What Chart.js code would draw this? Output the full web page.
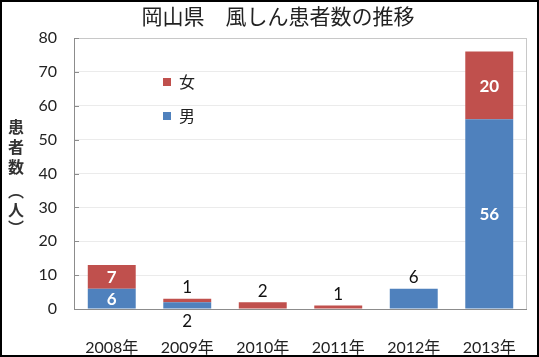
<!DOCTYPE html>
<html>
<head>
<meta charset="utf-8">
<script src="https://cdn.jsdelivr.net/npm/chart.js@4.4.1/dist/chart.umd.min.js"></script>
<style>
html,body{margin:0;padding:0;background:#fff;}
#wrap{width:539px;height:357px;position:relative;}
</style>
</head>
<body>
<div id="wrap"><canvas id="c" width="539" height="357"></canvas></div>
<script>
const categories = ['2008年','2009年','2010年','2011年','2012年','2013年'];
const male = [6, 2, 0, 0, 6, 56];
const female = [7, 1, 2, 1, 0, 20];
const seriesNames = ['男','女'];
const yTicks = [0,10,20,30,40,50,60,70,80];
const chartTitle = '岡山県　風しん患者数の推移';
const yTitleChars = ['患','者','数','︵','人','︶'];

const BLUE = '#4F81BD', RED = '#C0504D';
const FONT = "Lato, 'Noto Sans CJK JP', sans-serif";
const JFONT = "'Noto Sans CJK JP', sans-serif";

const deco = {
  id: 'deco',
  beforeDatasetsDraw(chart) {
    const {ctx, chartArea: a, scales: {y}} = chart;
    ctx.save();
    ctx.strokeStyle = '#c8c8c8';
    ctx.lineWidth = 1;
    ctx.strokeRect(a.left + 0.5, a.top + 0.5, a.right - a.left - 1, a.bottom - a.top);
    ctx.strokeStyle = '#8c8c8c';
    ctx.beginPath();
    ctx.moveTo(a.left + 0.5, a.top); ctx.lineTo(a.left + 0.5, a.bottom + 0.5);
    ctx.lineTo(a.right, a.bottom + 0.5);
    ctx.stroke();
    yTicks.forEach(v => {
      const py = Math.round(y.getPixelForValue(v)) + 0.5;
      ctx.beginPath(); ctx.moveTo(a.left, py); ctx.lineTo(a.left + 5, py); ctx.stroke();
    });
    ctx.restore();
  },
  afterDraw(chart) {
    const {ctx} = chart;
    ctx.save();
    ctx.fillStyle = '#222';
    ctx.font = "21px " + JFONT;
    ctx.textAlign = 'center';
    ctx.textBaseline = 'middle';
    ctx.fillText(chartTitle, 278, 16);
    ctx.font = "bold 16px " + JFONT;
    ctx.fillStyle = '#333';
    const yPos = [127, 147, 167, 191, 210, 228];
    yTitleChars.forEach((ch, i) => {
      ctx.fillText(ch, 16, yPos[i]);
    });
    const leg = [{name: seriesNames[1], color: RED, y: 82}, {name: seriesNames[0], color: BLUE, y: 116}];
    ctx.font = "16px " + JFONT;
    ctx.textAlign = 'left';
    leg.forEach(l => {
      ctx.fillStyle = l.color;
      ctx.fillRect(163, l.y - 4, 8, 8);
      ctx.fillStyle = '#222';
      ctx.fillText(l.name, 179, l.y);
    });
    const mMeta = chart.getDatasetMeta(0), fMeta = chart.getDatasetMeta(1);
    ctx.textAlign = 'center';
    categories.forEach((c, i) => {
      const mb = mMeta.data[i], fb = fMeta.data[i];
      const m = male[i], f = female[i];
      if (m >= 5 && f >= 5) {
        ctx.font = "bold 17px " + FONT;
        ctx.fillStyle = '#fff';
        ctx.fillText(String(m), mb.x, (mb.y + mb.base) / 2 + 1);
        ctx.fillText(String(f), fb.x, (fb.y + fb.base) / 2 + 1);
      } else {
        ctx.font = "17px " + FONT;
        ctx.fillStyle = '#111';
        if (f > 0 && m > 0) {
          ctx.fillText(String(f), fb.x, fb.y - 11);
          ctx.fillText(String(m), mb.x, mb.base + 13);
        } else if (f > 0) {
          ctx.fillText(String(f), fb.x, fb.y - 11);
        } else if (m > 0) {
          ctx.fillText(String(m), mb.x, mb.y - 11);
        }
      }
    });
    ctx.strokeStyle = '#000';
    ctx.lineWidth = 2;
    ctx.strokeRect(1, 1, 537, 355);
    ctx.restore();
  }
};

new Chart(document.getElementById('c'), {
  type: 'bar',
  data: {
    labels: categories,
    datasets: [
      {label: seriesNames[0], data: male, backgroundColor: BLUE, categoryPercentage: 0.635, barPercentage: 1},
      {label: seriesNames[1], data: female, backgroundColor: RED, categoryPercentage: 0.635, barPercentage: 1}
    ]
  },
  options: {
    responsive: false,
    animation: false,
    devicePixelRatio: 1,
    layout: {padding: {left: 0, top: 38, right: 12, bottom: 0}},
    plugins: {legend: {display: false}, title: {display: false}, tooltip: {enabled: false}},
    scales: {
      x: {
        stacked: true,
        grid: {display: false, drawTicks: false},
        border: {display: false},
        ticks: {padding: 29, color: '#222', font: {family: FONT, size: 16}, maxRotation: 0},
        afterFit(s) { s.height = 48; s.paddingLeft = 0; s.paddingRight = 0; }
      },
      y: {
        stacked: true,
        min: 0, max: 80,
        afterBuildTicks(s) { s.ticks = yTicks.map(v => ({value: v})); },
        grid: {color: '#ebebeb', drawTicks: false},
        border: {display: false},
        ticks: {padding: 17, color: '#222', font: {family: FONT, size: 16}},
        afterFit(s) { s.width = 74; s.paddingTop = 0; s.paddingBottom = 0; }
      }
    }
  },
  plugins: [deco]
});
</script>
</body>
</html>
